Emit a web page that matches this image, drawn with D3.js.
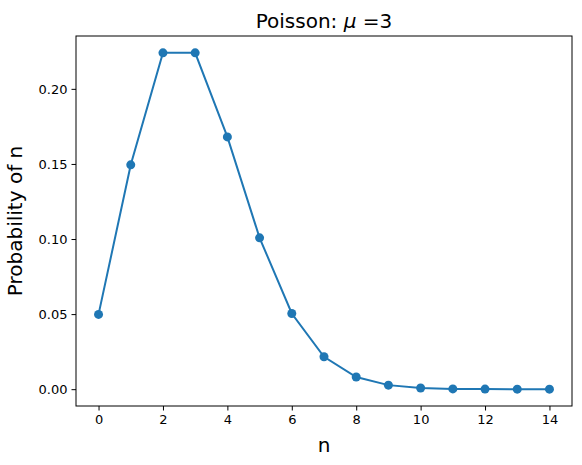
<!DOCTYPE html>
<html><head><meta charset="utf-8">
<script src="https://cdn.jsdelivr.net/npm/d3@7"></script>
<style>body{margin:0;background:#fff}text{font-family:"DejaVu Sans",sans-serif}</style>
</head><body>
<script>
// Poisson probabilities for mu = 3
const nValues = [0, 1, 2, 3, 4, 5, 6, 7, 8, 9, 10, 11, 12, 13, 14];
const probValues = [0.0498, 0.1494, 0.2240, 0.2240, 0.1680, 0.1008, 0.0504, 0.0216,
  0.0081, 0.0027, 0.0008, 0.0002, 0.00006, 0.00001, 0.000003];
const xTicks = [0, 2, 4, 6, 8, 10, 12, 14];
const yTicks = [0, 0.05, 0.10, 0.15, 0.20];

const W = 582, H = 465;
const m = {left: 76, right: 10, top: 36, bottom: 59};
const svg = d3.select("body").append("svg").attr("width", W).attr("height", H);

const x = d3.scaleLinear().domain([-0.7, 14.7]).range([m.left, W - m.right]);
const y = d3.scaleLinear().domain([-0.0112, 0.2352]).range([H - m.bottom, m.top]);

const color = "#1f77b4";

svg.append("g").attr("transform", `translate(0,${H - m.bottom})`)
  .call(d3.axisBottom(x).tickValues(xTicks).tickSize(4.5).tickPadding(4).tickFormat(d3.format("d")))
  .call(g => g.select(".domain").remove())
  .call(g => g.selectAll("line").attr("stroke", "#000"))
  .selectAll("text").attr("font-size", 13).attr("fill", "#000");

svg.append("g").attr("transform", `translate(${m.left},0)`)
  .call(d3.axisLeft(y).tickValues(yTicks).tickSize(4.5).tickPadding(4).tickFormat(d3.format(".2f")))
  .call(g => g.select(".domain").remove())
  .call(g => g.selectAll("line").attr("stroke", "#000"))
  .selectAll("text").attr("font-size", 13).attr("fill", "#000");

const pts = nValues.map((n, i) => [n, probValues[i]]);
svg.append("path").datum(pts)
  .attr("fill", "none").attr("stroke", color).attr("stroke-width", 2)
  .attr("d", d3.line().x(d => x(d[0])).y(d => y(d[1])));

svg.selectAll("circle.pt").data(pts).join("circle")
  .attr("cx", d => x(d[0])).attr("cy", d => y(d[1])).attr("r", 4.5).attr("fill", color);

svg.append("rect").attr("x", m.left).attr("y", m.top)
  .attr("width", W - m.left - m.right).attr("height", H - m.top - m.bottom)
  .attr("fill", "none").attr("stroke", "#000").attr("stroke-width", 1);

const title = svg.append("text").attr("x", (m.left + W - m.right) / 2).attr("y", 28)
  .attr("text-anchor", "middle").attr("font-size", 20);
title.append("tspan").text("Poisson: ");
title.append("tspan").attr("font-style", "italic").text("μ");
title.append("tspan").text(" =3");

svg.append("text").attr("x", (m.left + W - m.right) / 2).attr("y", 452)
  .attr("text-anchor", "middle").attr("font-size", 20).text("n");

svg.append("text").attr("transform", `translate(22,${(m.top + H - m.bottom) / 2}) rotate(-90)`)
  .attr("text-anchor", "middle").attr("font-size", 20).text("Probability of n");
</script>
</body></html>
